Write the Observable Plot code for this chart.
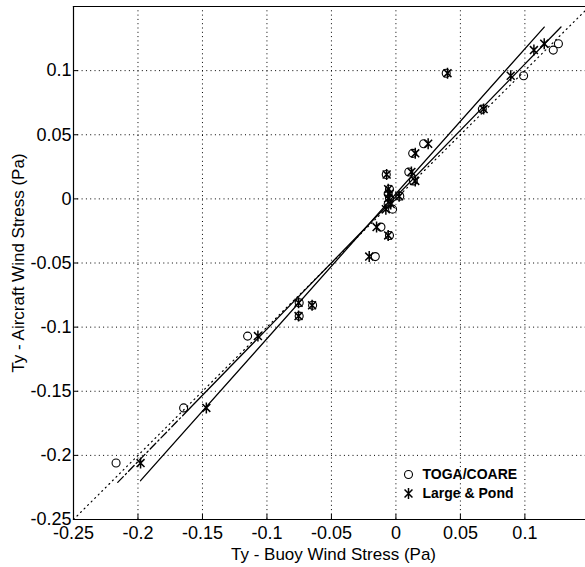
<!DOCTYPE html>
<html>
<head>
<meta charset="utf-8">
<script src="https://cdn.jsdelivr.net/npm/d3@7"></script>
<script src="https://cdn.jsdelivr.net/npm/@observablehq/plot@0.6"></script>
<style>
  body { margin: 0; background: #fff; }
  #chart { position: absolute; left: 0; top: 0; }
  #chart svg { font-family: "Liberation Sans", Arial, sans-serif; }
</style>
</head>
<body>
<div id="chart"></div>
<script>
// Aircraft-measured Ty (Pa), one per flight leg
const aircraftTy = [0.121, 0.116, 0.096, 0.098, 0.070, 0.043, 0.0355, 0.021, 0.014, 0.019,
  0.0075, 0.004, 0.002, 0.0005, -0.004, -0.008, -0.022, -0.0285, -0.045,
  -0.081, -0.083, -0.0914, -0.107, -0.163, -0.206];
// Buoy Ty computed with TOGA/COARE bulk algorithm
const togaBuoyTy = [0.126, 0.122, 0.099, 0.039, 0.067, 0.0215, 0.013, 0.010, 0.0135, -0.0075,
  -0.005, -0.006, 0.003, -0.005, -0.006, -0.0026, -0.0116, -0.005, -0.016,
  -0.075, -0.0646, -0.075, -0.115, -0.1646, -0.217];
// Buoy Ty computed with Large & Pond bulk formula
const largePondBuoyTy = [0.115, 0.107, 0.089, 0.040, 0.068, 0.025, 0.015, 0.012, 0.015, -0.0072,
  -0.006, -0.005, 0.0025, -0.006, -0.004, -0.0078, -0.015, -0.006, -0.0207,
  -0.0755, -0.065, -0.0755, -0.107, -0.147, -0.198];

// Regression fits: y = a + b x
const fitNames = ["Large & Pond fit", "TOGA/COARE fit"];
const fitIntercept = [0.0040, 0.0018];
const fitSlope = [1.13, 1.033];
const fitXStart = [-0.198, -0.2157];
const fitXEnd = [0.115, 0.128];
const fitSolidFrom = [-0.198, -0.1615]; // below this the fit is drawn dash-dot

const oneToOne = [-0.25, 0.15];
const xTicks = [-0.25, -0.2, -0.15, -0.1, -0.05, 0, 0.05, 0.1];
const yTicks = [-0.25, -0.2, -0.15, -0.1, -0.05, 0, 0.05, 0.1];
const xDomain = [-0.25, 0.147];
const yDomain = [-0.25, 0.15];
const xLabel = "Ty - Buoy Wind Stress (Pa)";
const yLabel = "Ty - Aircraft Wind Stress (Pa)";
const legendLabels = ["TOGA/COARE", "Large & Pond"];

const toga = aircraftTy.map((y, i) => ({x: togaBuoyTy[i], y}));
const lp = aircraftTy.map((y, i) => ({x: largePondBuoyTy[i], y}));

const solidSegs = [], dashSegs = [];
fitNames.forEach((n, i) => {
  const f = x => fitIntercept[i] + fitSlope[i] * x;
  solidSegs.push({fit: n, x: fitSolidFrom[i], y: f(fitSolidFrom[i])}, {fit: n, x: fitXEnd[i], y: f(fitXEnd[i])});
  if (fitSolidFrom[i] > fitXStart[i]) {
    dashSegs.push({fit: n, x: fitXStart[i], y: f(fitXStart[i])}, {fit: n, x: fitSolidFrom[i], y: f(fitSolidFrom[i])});
  }
});

const asterisk = {
  draw(context, size) {
    const r = Math.sqrt(size / Math.PI);
    const d = r * 0.72;
    context.moveTo(0, -r); context.lineTo(0, r);
    context.moveTo(-d, -d); context.lineTo(d, d);
    context.moveTo(-d, d); context.lineTo(d, -d);
  }
};

const fmt = d => String(d);

const chart = Plot.plot({
  width: 585,
  height: 567,
  marginLeft: 73,
  marginRight: 0,
  marginTop: 6,
  marginBottom: 48,
  style: {fontFamily: "Liberation Sans, Arial, sans-serif", fontSize: "18px", color: "black", background: "white"},
  x: {domain: xDomain, ticks: xTicks},
  y: {domain: yDomain, ticks: yTicks},
  marks: [
    Plot.gridX(xTicks, {stroke: "black", strokeOpacity: 1, strokeWidth: 1, strokeDasharray: "1,3.3"}),
    Plot.gridY(yTicks, {stroke: "black", strokeOpacity: 1, strokeWidth: 1, strokeDasharray: "1,3.3"}),
    Plot.line(oneToOne, {x: d => d, y: d => d, clip: true, stroke: "black", strokeWidth: 1.2, strokeDasharray: "1,4"}),
    Plot.line(dashSegs, {x: "x", y: "y", z: "fit", stroke: "black", strokeWidth: 1.3, strokeDasharray: "8,3,1.5,3"}),
    Plot.line(solidSegs, {x: "x", y: "y", z: "fit", stroke: "black", strokeWidth: 1.3}),
    Plot.dot(toga, {x: "x", y: "y", r: 4, symbol: "circle", stroke: "black", strokeWidth: 1.1, fill: "none"}),
    Plot.dot(lp, {x: "x", y: "y", r: 5.5, symbol: asterisk, stroke: "black", strokeWidth: 1.5}),
    Plot.axisX(xTicks, {tickSize: -5, tickPadding: 12, tickFormat: fmt, label: null, fontSize: 18}),
    Plot.axisY(yTicks, {tickSize: -5, tickPadding: 7, tickFormat: fmt, label: null, fontSize: 18}),
    Plot.frame({anchor: "top", strokeWidth: 1.2}),
    Plot.frame({anchor: "left", strokeWidth: 1.2}),
    Plot.frame({anchor: "bottom", strokeWidth: 1.2}),
    Plot.text([xLabel], {frameAnchor: "bottom", dx: 4, dy: 35, lineAnchor: "middle", textAnchor: "middle", fontSize: 17, fill: "black"}),
    Plot.text([yLabel], {frameAnchor: "left", dx: -55, rotate: -90, textAnchor: "middle", lineAnchor: "middle", fontSize: 17, fill: "black"}),
    Plot.dot([legendLabels[0]], {frameAnchor: "bottom-left", dx: 335, dy: -45, r: 4, symbol: "circle", stroke: "black", strokeWidth: 1.1, fill: "none"}),
    Plot.dot([legendLabels[1]], {frameAnchor: "bottom-left", dx: 335, dy: -26, r: 5.5, symbol: asterisk, stroke: "black", strokeWidth: 1.5}),
    Plot.text([legendLabels[0]], {frameAnchor: "bottom-left", dx: 349, dy: -45, textAnchor: "start", lineAnchor: "middle", fontWeight: "bold", fontSize: 14, fill: "black"}),
    Plot.text([legendLabels[1]], {frameAnchor: "bottom-left", dx: 349, dy: -26, textAnchor: "start", lineAnchor: "middle", fontWeight: "bold", fontSize: 14, fill: "black"})
  ]
});
document.getElementById("chart").appendChild(chart);
</script>
</body>
</html>
